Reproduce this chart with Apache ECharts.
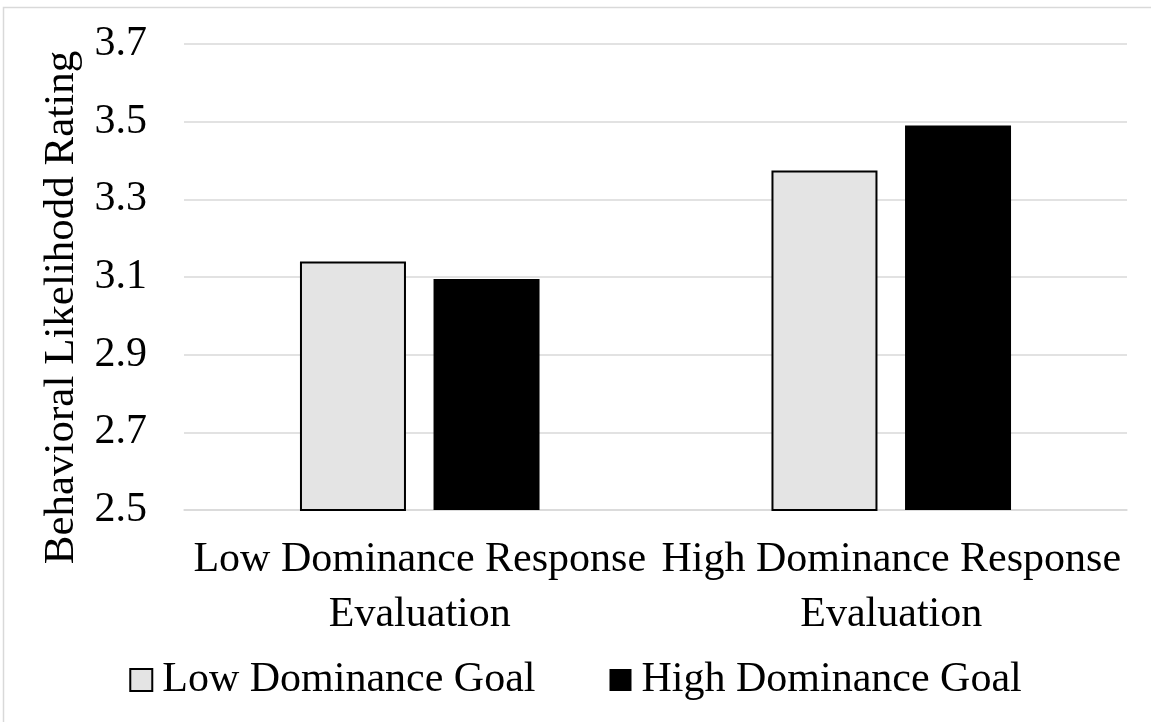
<!DOCTYPE html>
<html>
<head>
<meta charset="utf-8">
<script src="https://cdn.jsdelivr.net/npm/echarts@6/dist/echarts.min.js"></script>
<style>
  html, body { margin: 0; padding: 0; background: #fff; }
  #chart { width: 1151px; height: 722px; }
</style>
</head>
<body>
<div id="chart"></div>
<script>
// Response evaluation conditions (x-axis categories)
const categories = [
  'Low Dominance Response\nEvaluation',
  'High Dominance Response\nEvaluation'
];
// Mean behavioral likelihood rating per goal condition
const lowGoal = [3.14, 3.374];
const highGoal = [3.095, 3.49];
const seriesNames = ['Low Dominance Goal', 'High Dominance Goal'];
// Value axis range and step
const yMin = 2.5;
const yMax = 3.7;
const yStep = 0.2;
const yTitle = 'Behavioral Likelihodd Rating';

const FONT = "'Liberation Serif', 'Times New Roman', serif";
const chart = echarts.init(document.getElementById('chart'), null, { renderer: 'canvas' });

chart.setOption({
  backgroundColor: '#ffffff',
  animation: false,
  textStyle: { fontFamily: FONT, color: '#000' },
  graphic: [{
    type: 'rect',
    shape: { x: 3.5, y: 7.5, width: 1170, height: 740 },
    style: { fill: 'none', stroke: '#d9d9d9', lineWidth: 1.5 },
    silent: true,
    z: -1
  }],
  grid: { left: 184, right: 24, top: 44, bottom: 212, containLabel: false },
  legend: {
    data: seriesNames,
    left: 'center',
    top: 659,
    padding: 0,
    icon: 'rect',
    itemWidth: 22,
    itemHeight: 22,
    itemGap: 74,
    textStyle: { fontFamily: FONT, fontSize: 42, color: '#000', padding: [0, 0, 0, 5] }
  },
  xAxis: {
    type: 'category',
    data: categories,
    axisLine: { show: true, lineStyle: { color: '#d9d9d9', width: 1.5 } },
    axisTick: { show: false },
    axisLabel: {
      interval: 0,
      margin: 22,
      fontFamily: FONT,
      fontSize: 42,
      lineHeight: 55,
      color: '#000'
    }
  },
  yAxis: {
    type: 'value',
    min: yMin,
    max: yMax,
    interval: yStep,
    name: yTitle,
    nameLocation: 'middle',
    nameGap: 100,
    nameRotate: 90,
    nameTextStyle: {
      fontFamily: FONT,
      fontSize: 43,
      color: '#000',
      padding: [0, 61, 0, 0]
    },
    axisLine: { show: false },
    axisTick: { show: false },
    axisLabel: {
      margin: 37,
      fontFamily: FONT,
      fontSize: 42,
      color: '#000',
      formatter: v => v.toFixed(1)
    },
    splitLine: { show: true, lineStyle: { color: '#d9d9d9', width: 1.5 } }
  },
  series: [
    {
      name: seriesNames[0],
      type: 'bar',
      data: lowGoal,
      barWidth: 106,
      barGap: '26%',
      itemStyle: { color: '#e4e4e4', borderColor: '#000', borderWidth: 2 }
    },
    {
      name: seriesNames[1],
      type: 'bar',
      data: highGoal,
      barWidth: 106,
      barGap: '26%',
      itemStyle: { color: '#000', borderColor: '#000', borderWidth: 0 }
    }
  ]
});
</script>
</body>
</html>
